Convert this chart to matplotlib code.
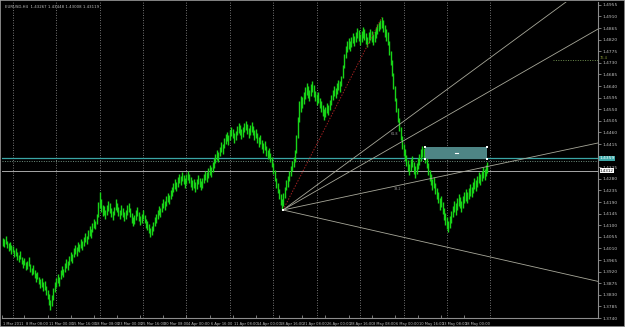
import matplotlib
matplotlib.use("Agg")
import matplotlib.pyplot as plt
import matplotlib.transforms as mtransforms

# ---------------- data ----------------
title_text = "EURUSD,H4  1.43267 1.43448 1.43008 1.43119"

bar_lows = [
    1.4020, 1.4015, 1.4028, 1.4010, 1.4000, 1.4005, 1.3990, 1.3995, 1.3975, 1.3980,
    1.3965, 1.3958, 1.3970, 1.3950, 1.3935, 1.3945, 1.3925, 1.3930, 1.3940, 1.3920,
    1.3905, 1.3910, 1.3895, 1.3880, 1.3890, 1.3870, 1.3855, 1.3862, 1.3845, 1.3850,
    1.3830, 1.3815, 1.3790, 1.3770, 1.3785, 1.3810, 1.3840,
    1.3860, 1.3875, 1.3865, 1.3890, 1.3905, 1.3898, 1.3920, 1.3935, 1.3928,
    1.3945, 1.3960, 1.3955, 1.3975, 1.3990, 1.3982, 1.4000, 1.3995, 1.4010, 1.4005,
    1.4020, 1.4035, 1.4028, 1.4045, 1.4060, 1.4052, 1.4075, 1.4090, 1.4085,
    1.4105, 1.4130, 1.4165, 1.4150, 1.4135, 1.4140,
    1.4125, 1.4140, 1.4155, 1.4148, 1.4130, 1.4120, 1.4138, 1.4160, 1.4150, 1.4135,
    1.4125, 1.4140, 1.4130, 1.4115, 1.4125,
    1.4140, 1.4150, 1.4130, 1.4110, 1.4095, 1.4105, 1.4120, 1.4135, 1.4118, 1.4100,
    1.4110, 1.4125, 1.4108, 1.4090, 1.4080,
    1.4070, 1.4055, 1.4062, 1.4078, 1.4095, 1.4110,
    1.4125, 1.4140, 1.4132, 1.4150, 1.4165, 1.4158, 1.4175, 1.4190, 1.4182, 1.4200, 1.4215,
    1.4228, 1.4240, 1.4232, 1.4250, 1.4262, 1.4255, 1.4270, 1.4258, 1.4245, 1.4260,
    1.4275, 1.4265, 1.4250,
    1.4238, 1.4245, 1.4230, 1.4242, 1.4258, 1.4250, 1.4235, 1.4245, 1.4262, 1.4275,
    1.4268, 1.4282, 1.4295, 1.4288, 1.4305,
    1.4320, 1.4340, 1.4352, 1.4345, 1.4368, 1.4385, 1.4378, 1.4400,
    1.4415, 1.4425, 1.4410, 1.4430, 1.4445, 1.4438, 1.4420, 1.4430, 1.4448, 1.4458,
    1.4450, 1.4435, 1.4442, 1.4460, 1.4470, 1.4455, 1.4440, 1.4450, 1.4462, 1.4448,
    1.4430, 1.4438,
    1.4420, 1.4405, 1.4415, 1.4395, 1.4380, 1.4390, 1.4370, 1.4355, 1.4362, 1.4345,
    1.4325, 1.4300, 1.4270, 1.4245, 1.4225, 1.4200, 1.4180, 1.4158, 1.4175,
    1.4205, 1.4235, 1.4250, 1.4270, 1.4290, 1.4310, 1.4325, 1.4345,
    1.4380, 1.4440, 1.4500, 1.4540,
    1.4555, 1.4570, 1.4590, 1.4605, 1.4595, 1.4580, 1.4600, 1.4615, 1.4598, 1.4580,
    1.4565, 1.4575,
    1.4555, 1.4540, 1.4525, 1.4510, 1.4520, 1.4535, 1.4528, 1.4545,
    1.4565, 1.4585, 1.4600, 1.4592, 1.4610, 1.4625, 1.4618, 1.4640,
    1.4670, 1.4710, 1.4750, 1.4770, 1.4785, 1.4775,
    1.4790, 1.4805, 1.4795, 1.4810, 1.4825, 1.4815, 1.4800, 1.4812, 1.4828, 1.4818,
    1.4802, 1.4790, 1.4805, 1.4820, 1.4812, 1.4798, 1.4810, 1.4825,
    1.4840, 1.4852, 1.4860, 1.4865, 1.4850, 1.4830, 1.4815, 1.4800,
    1.4760, 1.4720, 1.4680, 1.4630, 1.4580, 1.4540,
    1.4500, 1.4465, 1.4430, 1.4395, 1.4370, 1.4350,
    1.4330, 1.4310, 1.4295, 1.4310, 1.4325, 1.4300, 1.4285, 1.4298, 1.4318, 1.4335,
    1.4350, 1.4365, 1.4358, 1.4340, 1.4320,
    1.4295, 1.4270, 1.4255, 1.4235, 1.4245, 1.4220, 1.4200,
    1.4185, 1.4160, 1.4170, 1.4145, 1.4120, 1.4100, 1.4085, 1.4072, 1.4090, 1.4110,
    1.4130, 1.4150, 1.4140, 1.4160, 1.4175, 1.4165, 1.4150, 1.4168, 1.4185, 1.4195,
    1.4185, 1.4200, 1.4215, 1.4208, 1.4225, 1.4240, 1.4232, 1.4250, 1.4262, 1.4255,
    1.4270, 1.4282, 1.4275, 1.4290, 1.4301,
]

bar_highs = [
    1.4052, 1.4045, 1.4060, 1.4040, 1.4030, 1.4035, 1.4022, 1.4018, 1.4005, 1.4010,
    1.3995, 1.3985, 1.4000, 1.3978, 1.3965, 1.3972, 1.3958, 1.3962, 1.3975, 1.3950,
    1.3935, 1.3945, 1.3925, 1.3915, 1.3920, 1.3900, 1.3890, 1.3895, 1.3878, 1.3885,
    1.3865, 1.3850, 1.3835, 1.3810, 1.3830, 1.3855, 1.3880,
    1.3895, 1.3910, 1.3900, 1.3925, 1.3940, 1.3930, 1.3955, 1.3968, 1.3960,
    1.3980, 1.3995, 1.3988, 1.4010, 1.4025, 1.4015, 1.4035, 1.4028, 1.4045, 1.4040,
    1.4055, 1.4068, 1.4060, 1.4080, 1.4095, 1.4085, 1.4110, 1.4125, 1.4118,
    1.4145, 1.4190, 1.4228, 1.4200, 1.4180, 1.4175,
    1.4160, 1.4178, 1.4195, 1.4185, 1.4168, 1.4155, 1.4172, 1.4200, 1.4188, 1.4170,
    1.4160, 1.4178, 1.4165, 1.4150, 1.4158,
    1.4178, 1.4185, 1.4165, 1.4148, 1.4130, 1.4140, 1.4158, 1.4170, 1.4152, 1.4135,
    1.4145, 1.4160, 1.4140, 1.4125, 1.4115,
    1.4105, 1.4090, 1.4098, 1.4112, 1.4130, 1.4145,
    1.4160, 1.4175, 1.4168, 1.4188, 1.4200, 1.4192, 1.4212, 1.4225, 1.4218, 1.4238, 1.4250,
    1.4265, 1.4278, 1.4268, 1.4288, 1.4300, 1.4292, 1.4308, 1.4295, 1.4282, 1.4298,
    1.4312, 1.4300, 1.4288,
    1.4275, 1.4280, 1.4268, 1.4278, 1.4295, 1.4285, 1.4270, 1.4282, 1.4300, 1.4312,
    1.4305, 1.4320, 1.4332, 1.4325, 1.4345,
    1.4360, 1.4378, 1.4390, 1.4385, 1.4405, 1.4422, 1.4415, 1.4438,
    1.4452, 1.4462, 1.4448, 1.4468, 1.4482, 1.4475, 1.4458, 1.4466, 1.4485, 1.4495,
    1.4488, 1.4472, 1.4480, 1.4498, 1.4505, 1.4492, 1.4478, 1.4488, 1.4500, 1.4485,
    1.4468, 1.4475,
    1.4458, 1.4442, 1.4450, 1.4432, 1.4418, 1.4425, 1.4408, 1.4392, 1.4398, 1.4382,
    1.4365, 1.4340, 1.4315, 1.4285, 1.4262, 1.4240, 1.4220, 1.4200, 1.4225,
    1.4250, 1.4275, 1.4290, 1.4310, 1.4330, 1.4350, 1.4365, 1.4390,
    1.4450, 1.4520, 1.4580, 1.4600,
    1.4598, 1.4615, 1.4635, 1.4650, 1.4640, 1.4625, 1.4648, 1.4660, 1.4642, 1.4622,
    1.4608, 1.4615,
    1.4595, 1.4580, 1.4565, 1.4550, 1.4560, 1.4575, 1.4568, 1.4585,
    1.4605, 1.4625, 1.4640, 1.4632, 1.4650, 1.4665, 1.4658, 1.4680,
    1.4720, 1.4765, 1.4795, 1.4815, 1.4825, 1.4815,
    1.4830, 1.4845, 1.4835, 1.4850, 1.4865, 1.4858, 1.4840, 1.4852, 1.4868, 1.4860,
    1.4845, 1.4832, 1.4848, 1.4862, 1.4855, 1.4840, 1.4852, 1.4868,
    1.4880, 1.4890, 1.4898, 1.4906, 1.4895, 1.4878, 1.4860, 1.4848,
    1.4815, 1.4775, 1.4740, 1.4690, 1.4640, 1.4595,
    1.4555, 1.4515, 1.4480, 1.4445, 1.4415, 1.4395,
    1.4372, 1.4352, 1.4338, 1.4355, 1.4368, 1.4345, 1.4328, 1.4340, 1.4360, 1.4378,
    1.4395, 1.4408, 1.4400, 1.4385, 1.4365,
    1.4340, 1.4315, 1.4298, 1.4280, 1.4288, 1.4265, 1.4245,
    1.4228, 1.4205, 1.4215, 1.4190, 1.4165, 1.4148, 1.4130, 1.4115, 1.4135, 1.4155,
    1.4175, 1.4195, 1.4185, 1.4205, 1.4220, 1.4210, 1.4195, 1.4212, 1.4228, 1.4240,
    1.4230, 1.4245, 1.4258, 1.4250, 1.4268, 1.4282, 1.4275, 1.4292, 1.4305, 1.4298,
    1.4312, 1.4325, 1.4318, 1.4332, 1.4345,
]

price_ticks = [1.3740, 1.3785, 1.3830, 1.3875, 1.3920, 1.3965, 1.4010, 1.4055,
               1.4100, 1.4145, 1.4190, 1.4235, 1.4280, 1.4325, 1.4370, 1.4415,
               1.4460, 1.4505, 1.4550, 1.4595, 1.4640, 1.4685, 1.4730, 1.4775,
               1.4820, 1.4865, 1.4910, 1.4955]
# labels hidden behind the price boxes on the axis
hidden_ticks = [1.4370]

date_labels = ["1 Mar 2011", "8 Mar 08:00", "11 Mar 00:00", "15 Mar 16:00",
               "18 Mar 08:00", "23 Mar 00:00", "25 Mar 16:00", "30 Mar 08:00",
               "4 Apr 00:00", "6 Apr 16:00", "11 Apr 08:00", "14 Apr 00:00",
               "18 Apr 16:00", "21 Apr 08:00", "26 Apr 00:00", "28 Apr 16:00",
               "3 May 08:00", "6 May 00:00", "10 May 16:00", "13 May 08:00",
               "18 May 00:00"]
date_label_bars = [-0.5, 15, 31, 47, 63, 79, 95, 111, 127, 143, 159, 175, 191,
                   207, 223, 239, 255, 271, 287, 303, 319]
grid_bars = [7, 37, 67, 97, 127, 157, 187, 217, 247, 277, 307, 337]

teal_line_price = 1.4359
dotted_line_price = 1.4349
dotted_upper_price = 1.4741
bid_price = 1.43119

box_bars = (292, 335)
box_prices = (1.4356, 1.4405)

fan_origin = (193.7, 1.4159)
fan_targets = [(389.3, 1.4966), (411.4, 1.4861), (411.4, 1.4419), (411.4, 1.3882)]
fan_base_target = (262.0, 1.4906)

# ---------------- figure ----------------
W, H = 625, 327
fig = plt.figure(figsize=(W / 100, H / 100), dpi=100, facecolor="black")
ax = fig.add_axes([2 / W, 9 / H, 596 / W, 316 / H], facecolor="black")
ax.set_xlim(-0.5, 411.4)
ax.set_ylim(1.3740, 1.49659)

txt_col = "#c0c0c0"
frame_col = "#8c8c8c"

for s in ["left", "top"]:
    ax.spines[s].set_visible(False)
for s in ["right", "bottom"]:
    ax.spines[s].set_color(frame_col)
    ax.spines[s].set_linewidth(0.8)

# vertical dotted grid
for gb in grid_bars:
    ax.axvline(gb, color="#9a9a9a", lw=0.6, ls=(0, (1, 2)), zorder=1)

# bars
xs = list(range(len(bar_lows)))
ax.vlines(xs, bar_lows, bar_highs, color="#18d418", lw=1.0, zorder=3)

# horizontal lines
ax.axhline(teal_line_price, color="#3aa6a6", lw=0.9, zorder=2)
ax.axhline(dotted_line_price, color="#6f8f7f", lw=0.7, ls=(0, (1, 1.5)), zorder=2)
ax.axhline(bid_price, color="#a8a8a8", lw=0.7, zorder=2)
ax.plot([380, 411.4], [dotted_upper_price, dotted_upper_price], color="#6f8f4f",
        lw=0.7, ls=(0, (1, 1.5)), zorder=2)

# box
bx0, bx1 = box_bars
by0, by1 = box_prices
ax.fill_between([bx0, bx1], by0, by1, color="#4e8585", zorder=4, lw=0)
ax.scatter([bx0, bx1, bx0, bx1], [by0, by0, by1, by1], s=2, marker="s",
           color="white", zorder=5, lw=0)
ax.plot([(bx0 + bx1) / 2 - 0.8, (bx0 + bx1) / 2 + 0.8],
        [(by0 + by1) / 2] * 2, color="white", lw=0.8, zorder=5)

# fan
ox, oy = fan_origin
for tx, ty in fan_targets:
    ax.plot([ox, ox + 3 * (tx - ox)], [oy, oy + 3 * (ty - oy)],
            color="#a8a89a", lw=0.6, zorder=4, clip_on=True)
bx, by = fan_base_target
ax.plot([ox, bx], [oy, by], color="#a02020", lw=0.7, ls=(0, (1.5, 1.5)), zorder=4)
ax.scatter([ox], [oy], s=2, marker="s", color="white", zorder=5, lw=0)
ax.text(268, 1.4448, "61.8", color="#9a9a9a", fontsize=2.4, zorder=5)
ax.text(270, 1.4238, "38.2", color="#9a9a9a", fontsize=2.4, zorder=5)

# y axis on right
ax.yaxis.tick_right()
ax.set_yticks(price_ticks)
ax.set_yticklabels(["" if p in hidden_ticks else f"{p:.4f}" for p in price_ticks])
ax.tick_params(axis="y", colors=frame_col, labelcolor=txt_col, labelsize=3.2,
               length=2, width=0.6, pad=1)
ax.set_xticks(date_label_bars)
ax.set_xticklabels([])
ax.tick_params(axis="x", colors=frame_col, length=2, width=0.6, direction="in")

trans = mtransforms.blended_transform_factory(ax.transData, ax.transAxes)
for b, lab in zip(date_label_bars, date_labels):
    ax.text(b + 0.8, -0.012, lab, transform=trans, ha="left", va="top",
            fontsize=2.6, color=txt_col, clip_on=False)

# price labels on the axis
ytr = mtransforms.blended_transform_factory(ax.transAxes, ax.transData)
ax.text(1.003, teal_line_price, f"{teal_line_price:.4f}", transform=ytr, ha="left",
        va="center", fontsize=3.2, color="white", clip_on=False,
        bbox=dict(boxstyle="square,pad=0.1", fc="#3aa6a6", ec="none"))
ax.text(1.003, bid_price, f"{bid_price:.4f}", transform=ytr, ha="left",
        va="center", fontsize=3.0, color="black", clip_on=False,
        bbox=dict(boxstyle="square,pad=0.05", fc="white", ec="none"))
ax.text(1.003, dotted_upper_price, "76.4", transform=ytr, ha="left", va="bottom",
        fontsize=2.6, color="#8a9a3a", clip_on=False)

# title
fig.text(5 / W, 1 - 9 / H, title_text, ha="left", va="bottom", fontsize=2.8,
         color=txt_col)

# outer frame
fig.add_artist(plt.Rectangle((0, 0), 1, 1, transform=fig.transFigure, fill=False,
                             ec="#9a9a9a", lw=1.2))

fig.savefig("out.png", dpi=100, facecolor="black")
